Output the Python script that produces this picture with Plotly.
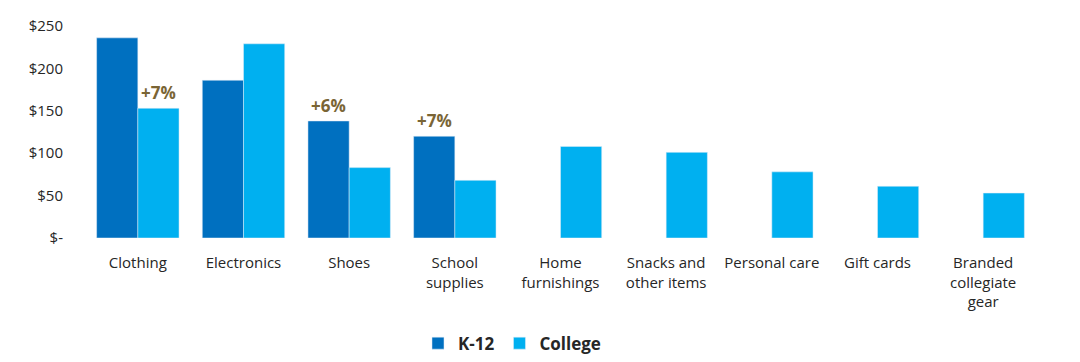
import plotly.graph_objects as go

categories = ["Clothing", "Electronics", "Shoes", "School<br>supplies", "Home<br>furnishings",
              "Snacks and<br>other items", "Personal care", "Gift cards", "Branded<br>collegiate<br>gear"]
k12 = [236, 186, 138, 120, None, None, None, None, None]
college = [153, 229, 83, 68, 108, 101, 78, 61, 53]

y_ticks = [0, 50, 100, 150, 200, 250]
y_labels = ["$-", "$50", "$100", "$150", "$200", "$250"]

# growth callouts: (category index, series, label)
callouts = [(0, "college", "+7%"), (2, "k12", "+6%"), (3, "k12", "+7%")]

FONT = "Open Sans, Noto Sans, sans-serif"

fig = go.Figure()
fig.add_trace(go.Bar(name="<b>K-12</b>", x=categories, y=k12, marker_color="#0070C0"))
fig.add_trace(go.Bar(name="<b>College</b>", x=categories, y=college, marker_color="#00B0F0"))

for idx, series, label in callouts:
    val = k12[idx] if series == "k12" else college[idx]
    shift = -20.5 if series == "k12" else 20.5
    fig.add_annotation(x=categories[idx], y=val, text=f"<b>{label}</b>", showarrow=False,
                       xshift=shift, yshift=2, yanchor="bottom",
                       font=dict(family=FONT, size=17, color="#7A6535"))

fig.update_layout(
    width=1080, height=362,
    margin=dict(l=85, r=44, t=26, b=124, autoexpand=False),
    paper_bgcolor="white", plot_bgcolor="white",
    barmode="group", bargap=0.22, bargroupgap=0,
    font=dict(family=FONT, size=15, color="#262626"),
    legend=dict(orientation="h", x=0.449, xanchor="center", y=-0.498, yanchor="middle",
                font=dict(size=17, color="#262626"), itemwidth=30, traceorder="normal"),
    showlegend=True,
)
fig.update_xaxes(showgrid=False, showline=False, ticks="", tickfont=dict(size=15),
                 ticklabelstandoff=14, automargin=False)
fig.update_yaxes(range=[0, 250], tickvals=y_ticks, ticktext=y_labels, showgrid=False,
                 zeroline=False, showline=False, tickfont=dict(size=15), ticklabelstandoff=21,
                 automargin=False)

fig.write_html("out.html", config={"displayModeBar": False},
               post_script="document.body.style.margin='0';document.body.style.overflow='hidden';")
